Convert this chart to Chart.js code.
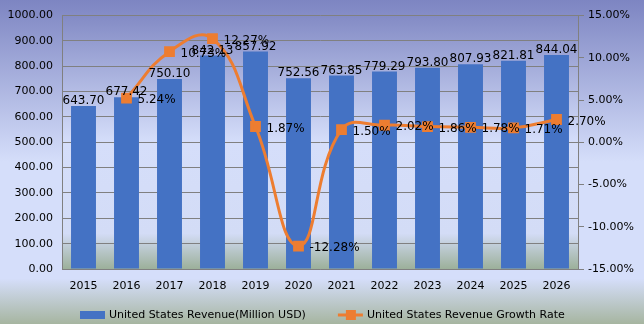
<!DOCTYPE html>
<html>
<head>
<meta charset="utf-8">
<script src="https://cdn.jsdelivr.net/npm/chart.js@4"></script>
<style>
  html, body { margin: 0; padding: 0; }
  #wrap { width: 644px; height: 324px; }
</style>
</head>
<body>
<div id="wrap"><canvas id="chart"></canvas></div>
<script>
// datos
const years = ["2015", "2016", "2017", "2018", "2019", "2020", "2021", "2022", "2023", "2024", "2025", "2026"];
const revenue = [643.70, 677.42, 750.10, 842.13, 857.92, 752.56, 763.85, 779.29, 793.80, 807.93, 821.81, 844.04];
const growth = [null, 5.24, 10.73, 12.27, 1.87, -12.28, 1.50, 2.02, 1.86, 1.78, 1.71, 2.70];
const revenueTicks = [0, 100, 200, 300, 400, 500, 600, 700, 800, 900, 1000];
const growthTicks = [-15, -10, -5, 0, 5, 10, 15];
const seriesNames = ["United States Revenue(Million USD)", "United States Revenue Growth Rate"];

const BLUE = "#4472c4", ORANGE = "#ed7d31";
const FONT = "DejaVu Sans";

// fondo degradado
const bgPlugin = {
  id: "bg",
  beforeDraw(chart) {
    const { ctx, chartArea: a, width, height } = chart;
    let gr = ctx.createLinearGradient(0, 0, 0, height);
    gr.addColorStop(0, "#7d85c2");
    gr.addColorStop(0.5, "#d5defa");
    gr.addColorStop(0.86, "#d5defa");
    gr.addColorStop(1, "#a6b5a0");
    ctx.save();
    ctx.fillStyle = gr;
    ctx.fillRect(0, 0, width, height);
    gr = ctx.createLinearGradient(0, a.top, 0, a.bottom);
    gr.addColorStop(0, "#838bc5");
    gr.addColorStop(0.5, "#d5defa");
    gr.addColorStop(0.86, "#d3dcf6");
    gr.addColorStop(1, "#9cb09a");
    ctx.fillStyle = gr;
    ctx.fillRect(a.left, a.top, a.right - a.left, a.bottom - a.top);
    ctx.restore();
  }
};

// etiquetas de datos y leyenda
const labelPlugin = {
  id: "labels",
  afterDatasetsDraw(chart) {
    const ctx = chart.ctx;
    ctx.save();
    ctx.font = "12px " + FONT;
    ctx.fillStyle = "#000";
    chart.getDatasetMeta(0).data.forEach((bar, i) => {
      ctx.textAlign = "center";
      ctx.textBaseline = "bottom";
      ctx.fillText(revenue[i].toFixed(2), bar.x, bar.y + 1);
    });
    chart.getDatasetMeta(1).data.forEach((pt, i) => {
      if (growth[i] === null) return;
      ctx.textAlign = "left";
      ctx.textBaseline = "middle";
      ctx.fillText(growth[i].toFixed(2) + "%", pt.x + 11, pt.y + 2);
    });

    // leyenda
    ctx.font = "11px " + FONT;
    const iconW = 25, gapIcon = 4, gapItem = 32, y = 315;
    const w0 = ctx.measureText(seriesNames[0]).width;
    const w1 = ctx.measureText(seriesNames[1]).width;
    const total = iconW + gapIcon + w0 + gapItem + iconW + gapIcon + w1;
    let x = Math.round((chart.width - total) / 2);
    ctx.fillStyle = BLUE;
    ctx.fillRect(x, y - 4, iconW, 8);
    ctx.fillStyle = "#000";
    ctx.textAlign = "left";
    ctx.textBaseline = "middle";
    ctx.fillText(seriesNames[0], x + iconW + gapIcon, y);
    x += iconW + gapIcon + w0 + gapItem;
    ctx.strokeStyle = ORANGE;
    ctx.lineWidth = 3;
    ctx.beginPath(); ctx.moveTo(x, y); ctx.lineTo(x + iconW, y); ctx.stroke();
    ctx.fillStyle = ORANGE;
    ctx.fillRect(x + 8, y - 5, 10, 10);
    ctx.fillStyle = "#000";
    ctx.fillText(seriesNames[1], x + iconW + gapIcon, y);
    ctx.restore();
  }
};

new Chart(document.getElementById("chart"), {
  data: {
    labels: years,
    datasets: [
      {
        type: "bar",
        label: seriesNames[0],
        data: revenue,
        backgroundColor: BLUE,
        yAxisID: "y",
        barPercentage: 0.58,
        categoryPercentage: 1,
        order: 2
      },
      {
        type: "line",
        label: seriesNames[1],
        data: growth,
        borderColor: ORANGE,
        backgroundColor: ORANGE,
        borderWidth: 3,
        tension: 0.45,
        pointStyle: "rect",
        pointRadius: 5.5,
        yAxisID: "y1",
        order: 1
      }
    ]
  },
  options: {
    responsive: true,
    maintainAspectRatio: false,
    animation: false,
    layout: { padding: { top: 13, bottom: 31 } },
    plugins: {
      tooltip: { enabled: false },
      legend: { display: false }
    },
    scales: {
      x: {
        grid: { display: false },
        border: { color: "#808080" },
        afterFit(s) { s.height = 24; },
        ticks: { color: "#000", font: { family: FONT, size: 11 }, padding: 3 }
      },
      y: {
        position: "left",
        min: 0, max: 1000,
        afterBuildTicks(s) { s.ticks = revenueTicks.map(v => ({ value: v })); },
        afterFit(s) { s.width = 62; },
        grid: { color: "#808080", drawTicks: false },
        border: { color: "#808080" },
        ticks: {
          color: "#000", font: { family: FONT, size: 11 }, padding: 9,
          callback: v => v.toFixed(2)
        }
      },
      y1: {
        position: "right",
        min: -15, max: 15,
        afterBuildTicks(s) { s.ticks = growthTicks.map(v => ({ value: v })); },
        afterFit(s) { s.width = 66; },
        grid: { drawOnChartArea: false, color: "#808080", tickLength: 6 },
        border: { color: "#808080" },
        ticks: {
          color: "#000", font: { family: FONT, size: 11 }, padding: 4,
          callback: v => v.toFixed(2) + "%"
        }
      }
    }
  },
  plugins: [bgPlugin, labelPlugin]
});
</script>
</body>
</html>
